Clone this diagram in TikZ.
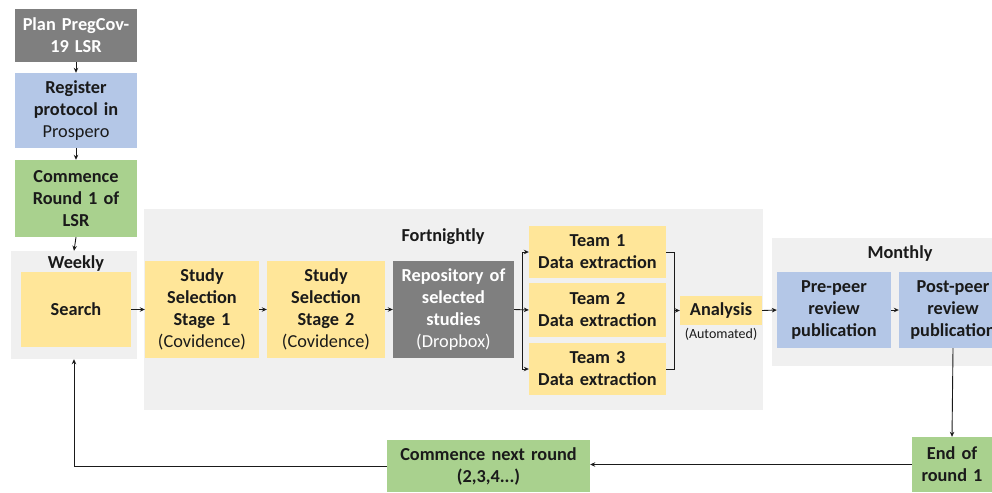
\documentclass[tikz,border=0pt]{standalone}
\usepackage{fontspec}
\setmainfont{Carlito}
\usetikzlibrary{arrows.meta}
\definecolor{dgray}{HTML}{7F7F7F}
\definecolor{lblue}{HTML}{B4C7E7}
\definecolor{lgreen}{HTML}{A9D18E}
\definecolor{lyellow}{HTML}{FFE699}
\definecolor{bgray}{HTML}{F0F0F0}
\definecolor{ink}{HTML}{1A1A1A}
\tikzset{
  box/.style={inner sep=1pt, align=center, text=ink, font=\fontsize{18.3}{22}\selectfont\bfseries},
  bgbox/.style={fill=bgray, inner sep=0pt},
  lbl/.style={text=ink, font=\fontsize{18.3}{20}\selectfont\bfseries, inner sep=0pt},
  arr/.style={draw=ink, line width=0.9pt, -{Stealth[length=5pt,width=4.5pt]}},
  ln/.style={draw=ink, line width=0.9pt}
}
\begin{document}
\begin{tikzpicture}[x=1pt,y=-1pt]
\useasboundingbox (0,0) rectangle (992,492);
\clip (0,0) rectangle (992,492);
% backgrounds
\node[bgbox, minimum width=126pt, minimum height=108pt] (weekly) at (74,305) {};
\node[bgbox, minimum width=619pt, minimum height=201pt] (fort) at (453.5,309.5) {};
\node[bgbox, minimum width=228pt, minimum height=128pt] (month) at (886,302) {};
\node[lbl] (wl) at (76,264) {Weekly};
\node[lbl] (fl) at (443,237) {Fortnightly};
\node[lbl] (ml) at (900,254) {Monthly};
% left column
\node[box, fill=dgray, text=white, minimum width=122pt, minimum height=53pt, text width=120pt] (plan) at (76,35.5) {Plan PregCov-\\19 LSR};
\node[box, fill=lblue, minimum width=122pt, minimum height=75pt, text width=120pt] (reg) at (76,110.5) {Register\\protocol in\\\mdseries Prospero};
\node[box, fill=lgreen, minimum width=122pt, minimum height=77pt, text width=120pt] (com1) at (76,198.5) {Commence\\Round 1 of\\LSR};
\node[box, fill=lyellow, minimum width=110pt, minimum height=75pt, text width=108pt] (search) at (76,309.5) {Search};
% main row
\node[box, fill=lyellow, minimum width=114pt, minimum height=97pt, text width=112pt] (ss1) at (202,309.5) {Study\\Selection\\Stage 1\\\mdseries (Covidence)};
\node[box, fill=lyellow, minimum width=118pt, minimum height=97pt, text width=116pt] (ss2) at (326,309.5) {Study\\Selection\\Stage 2\\\mdseries (Covidence)};
\node[box, fill=dgray, text=white, minimum width=121pt, minimum height=97pt, text width=119pt] (repo) at (453.5,309.5) {Repository of\\selected\\studies\\\mdseries (Dropbox)};
\node[box, fill=lyellow, minimum width=137pt, minimum height=52pt, text width=135pt] (t1) at (597.5,252) {Team 1\\Data extraction};
\node[box, fill=lyellow, minimum width=137pt, minimum height=54pt, text width=135pt] (t2) at (597.5,310) {Team 2\\Data extraction};
\node[box, fill=lyellow, minimum width=137pt, minimum height=52pt, text width=135pt] (t3) at (597.5,369) {Team 3\\Data extraction};
\node[box, fill=lyellow, minimum width=82pt, minimum height=29pt, text width=80pt] (ana) at (721,310.5) {Analysis};
\node[text=ink, font=\fontsize{14}{16}\selectfont, inner sep=0pt] (auto) at (721,334) {(Automated)};
\node[box, fill=lblue, minimum width=114pt, minimum height=76pt, text width=112pt] (pre) at (834,310) {Pre-peer\\review\\publication};
\node[box, fill=lblue, minimum width=108pt, minimum height=76pt, text width=106pt] (post) at (953,310) {Post-peer\\review\\publication};
% bottom row
\node[box, fill=lgreen, minimum width=80pt, minimum height=55pt, text width=78pt] (end) at (952,464.5) {End of\\round 1};
\node[box, fill=lgreen, minimum width=203pt, minimum height=52pt, text width=201pt] (cn) at (488.5,466) {Commence next round\\(2,3,4...)};
% connectors
\draw[arr] (plan.south) -- (reg.north);
\draw[arr] (reg.south) -- (com1.north);
\draw[arr] (com1.south) -- (weekly.north);
\draw[arr] (search.east) -- (ss1.west);
\draw[arr] (ss1.east) -- (ss2.west);
\draw[arr] (ss2.east) -- (repo.west);
\draw[arr] (repo.east) -- (t2.west);
\coordinate (bl) at (522,310);
\draw[ln] (bl |- t1.west) -- (bl |- t3.west);
\draw[arr] (bl |- t1.west) -- (t1.west);
\draw[arr] (bl |- t3.west) -- (t3.west);
\coordinate (br) at (674,310);
\draw[ln] (t1.east) -| (br) |- (t3.east);
\draw[arr] (br |- ana.west) -- (ana.west);
\draw[arr] (ana.east) -- (pre.west);
\draw[arr] (pre.east) -- (post.west);
\draw[arr] (post.south) -- (end.north);
\draw[arr] (end.west) -- (end.west -| cn.east);
\draw[arr] (cn.west) -| (weekly.south);
\end{tikzpicture}
\end{document}
